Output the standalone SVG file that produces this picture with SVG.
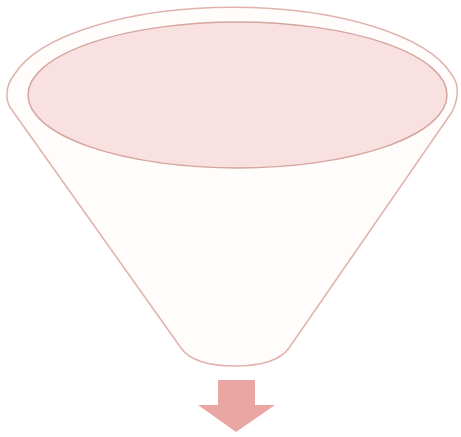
<svg xmlns="http://www.w3.org/2000/svg" width="461" height="437" viewBox="0 0 461 437">
<style>
.outline{fill:#fffdfc;stroke:#dfb3ab;stroke-width:1.5;stroke-linejoin:round}
.top{fill:#f9e1e1;stroke:#d6a59d;stroke-width:1.5}
.arrow{fill:#eaa6a2}
</style>
<rect width="461" height="437" fill="#ffffff"/>
<g id="funnel">
<path class="outline" d="M 12,110 C 4,100 6,85 14,75 A 225 88 0 0 1 452,75 C 460,85 458,100 452,112 L 289,348 Q 276,366 235,366 Q 194,366 181,348 Z"/>
</g>
<g id="top">
<ellipse class="top" cx="237.5" cy="95" rx="209.5" ry="73"/>
</g>
<g id="arrow">
<path class="arrow" d="M 218,380 L 255,380 L 255,405 L 275,405 L 236,432 L 198,405 L 218,405 Z"/>
</g>
</svg>
